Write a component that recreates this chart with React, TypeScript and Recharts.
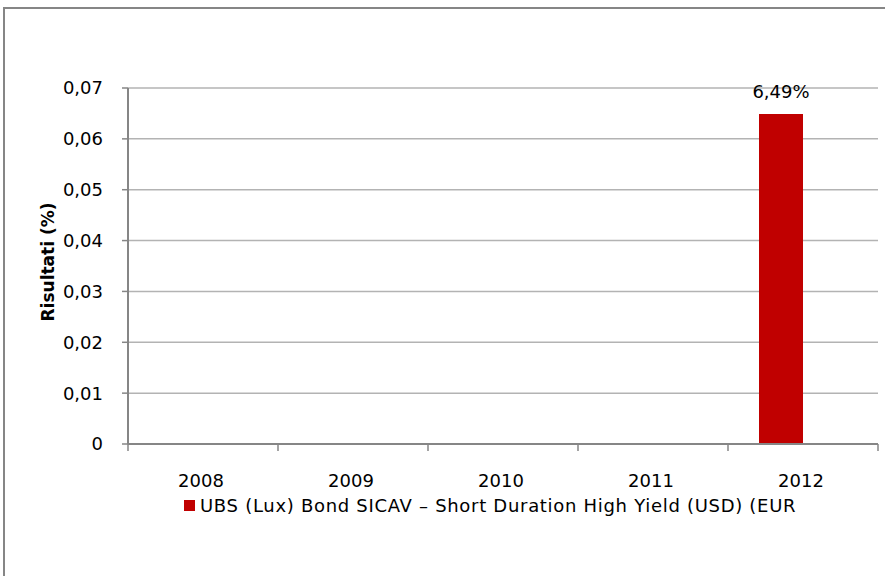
import React from "react";
import { BarChart, Bar, XAxis, YAxis, CartesianGrid, LabelList, Legend } from "recharts";

const categories = ["2008", "2009", "2010", "2011", "2012"];
const fundValues: (number | null)[] = [null, null, null, null, 0.0649];
const otherValues: (number | null)[] = [null, null, null, null, null];
const yTicks = [0, 0.01, 0.02, 0.03, 0.04, 0.05, 0.06, 0.07];
const seriesName = "UBS (Lux) Bond SICAV – Short Duration High Yield (USD) (EUR";
const yLabel = "Risultati (%)";

const data = categories.map((c, i) => ({ year: c, fund: fundValues[i], other: otherValues[i] }));

const FONT = "'DejaVu Sans', Verdana, sans-serif";
const AXIS = "#868686";

const XTick = (props: any) => {
  const { x, y, payload, index, visibleTicksCount } = props;
  const half = payload && payload.offset ? payload.offset : 0;
  return (
    <g>
      <line x1={x - half} x2={x - half} y1={y - 8} y2={y - 1} stroke={AXIS} strokeWidth={1.5} />
      {index === visibleTicksCount - 1 && (
        <line x1={x + half} x2={x + half} y1={y - 8} y2={y - 1} stroke={AXIS} strokeWidth={1.5} />
      )}
      <text x={x - 2} y={y + 35} textAnchor="middle" fontFamily={FONT} fontSize={18} fill="#000">
        {payload.value}
      </text>
    </g>
  );
};

const LegendContent = () => (
  <div style={{ display: "flex", alignItems: "center", fontFamily: FONT, fontSize: 18, color: "#000", paddingLeft: 184, height: 22 }}>
    <span style={{ display: "inline-block", width: 11, height: 11, background: "#C00000", marginRight: 5 }} />
    <span style={{ letterSpacing: 0.7 }}>{seriesName}</span>
  </div>
);

export default function App() {
  return (
    <div style={{ position: "relative", width: 885, height: 576, background: "#fff" }}>
      <style>{`body{margin:0}`}</style>
      <div style={{ position: "absolute", left: 3, top: 7, width: 900, height: 600, border: `2px solid ${AXIS}`, boxSizing: "border-box" }} />
      <div style={{ position: "absolute", left: 0, top: 0 }}>
        <BarChart
          width={885}
          height={576}
          data={data}
          margin={{ top: 88, right: 7, bottom: 70, left: 48 }}
          barGap={0}
          barSize={44}
        >
          <CartesianGrid vertical={false} stroke="#b3b3b3" strokeWidth={1.5} />
          <XAxis
            dataKey="year"
            axisLine={{ stroke: AXIS, strokeWidth: 2 }}
            tickLine={false}
            tick={<XTick />}
            interval={0}
            height={40}
          />
          <YAxis
            width={80}
            domain={[0, 0.07]}
            ticks={yTicks}
            interval={0}
            axisLine={{ stroke: AXIS, strokeWidth: 2 }}
            tickLine={{ stroke: AXIS, strokeWidth: 1.5 }}
            tickSize={6}
            tickMargin={19}
            tickFormatter={(v: number) => (v === 0 ? "0" : v.toFixed(2).replace(".", ","))}
            tick={{ fontFamily: FONT, fontSize: 18, fill: "#000" }}
            label={{
              value: yLabel,
              angle: -90,
              position: "insideLeft",
              dx: -5,
              dy: -4,
              style: { fontFamily: FONT, fontSize: 17, fontWeight: "bold", fill: "#000", textAnchor: "middle" },
            }}
          />
          <Legend verticalAlign="bottom" wrapperStyle={{ left: 0, top: 494, width: 885 }} content={<LegendContent />} />
          <Bar dataKey="fund" name={seriesName} fill="#C00000" isAnimationActive={false}>
            <LabelList
              dataKey="fund"
              position="top"
              offset={16}
              formatter={(v: any) => (v == null ? "" : (v * 100).toFixed(2).replace(".", ",") + "%")}
              style={{ fontFamily: FONT, fontSize: 18, fill: "#000" }}
            />
          </Bar>
          <Bar dataKey="other" fill="#4F81BD" isAnimationActive={false} legendType="none" />
        </BarChart>
      </div>
    </div>
  );
}
